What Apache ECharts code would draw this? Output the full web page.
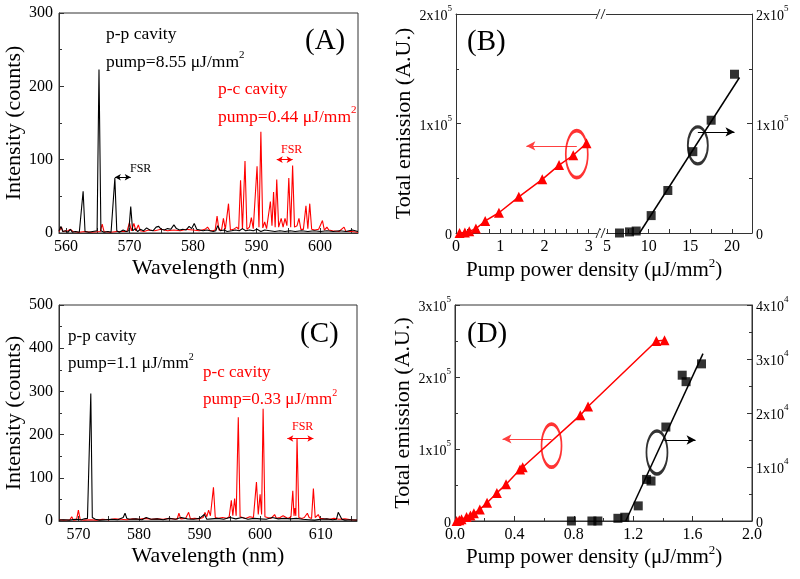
<!DOCTYPE html>
<html><head><meta charset="utf-8">
<script src="https://cdn.jsdelivr.net/npm/echarts@6/dist/echarts.min.js"></script>
<style>html,body{margin:0;padding:0;background:#fff}#c{width:800px;height:579px}</style>
</head><body><div id="c"></div>
<script>
// ---------- Panel A spectra (wavelength nm, counts) ----------
const ppA = [[558.9,3],[559.2,9],[559.5,2],[559.9,3],[560.3,1],[560.7,5],[561.0,1],[561.5,2],[562.1,1],[562.4,3],[562.7,57],[563.0,2],[563.6,1],[564.2,2],[564.9,3],[565.2,223],[565.5,3],[566.0,1],[566.6,2],[567.1,1],[567.4,3],[567.7,75],[568.0,3],[568.4,1],[569.0,4],[569.5,2],[569.9,3],[570.2,36],[570.5,3],[570.9,6],[571.3,2],[571.7,5],[572.2,3],[572.7,7],[573.2,4],[573.7,3],[574.2,8],[574.6,9],[575.0,5],[575.5,4],[576.0,6],[576.5,5],[577.0,11],[577.4,6],[577.9,4],[578.4,5],[578.9,4],[579.4,9],[579.8,6],[580.2,13],[580.6,5],[581.1,4],[581.6,3],[582.2,4],[582.7,3],[583.2,2],[583.6,3],[583.9,10],[584.3,3],[584.9,4],[585.4,2],[586.1,3],[586.7,4],[587.3,3],[587.8,6],[588.3,3],[588.9,4],[589.5,3],[590.1,5],[590.7,2],[591.3,4],[592.1,3],[592.9,2],[593.7,3],[594.5,2],[595.3,3],[596.1,2],[597.1,3],[598.1,2],[599.1,3],[600.1,2],[601.1,3],[602.1,2],[603.1,3],[604.1,2],[605.1,4],[606.0,2]];
const pcA = [[558.9,2],[559.3,8],[559.5,2],[560.3,3],[560.7,5],[561.1,2],[562.0,1],[563.0,2],[564.0,1],[565.4,2],[565.7,12],[566.0,2],[567.0,1],[568.0,2],[569.6,2],[570.0,14],[570.3,3],[570.7,13],[571.0,3],[571.4,11],[571.7,3],[572.3,2],[573.0,4],[574.0,3],[575.0,5],[576.0,3],[577.0,4],[578.0,3],[579.0,5],[580.0,4],[581.0,3],[581.9,5],[582.3,8],[582.7,3],[583.1,3],[583.5,4],[583.8,23],[584.1,4],[584.5,4],[584.8,20],[585.1,5],[585.3,5],[585.6,40],[585.9,4],[586.4,5],[586.9,8],[587.2,5],[587.5,72],[587.8,5],[587.95,5],[588.2,98],[588.5,5],[588.9,8],[589.2,21],[589.5,6],[589.8,8],[590.1,91],[590.4,8],[590.7,138],[591.0,7],[591.3,15],[591.6,6],[591.9,8],[592.2,43],[592.45,10],[592.7,56],[592.95,8],[593.2,73],[593.5,8],[593.9,20],[594.2,8],[594.5,20],[594.8,10],[595.1,75],[595.4,8],[595.7,92],[596.0,8],[596.4,10],[596.7,20],[597.0,5],[597.4,5],[597.8,37],[598.1,6],[598.4,40],[598.7,5],[599.2,4],[599.8,5],[600.4,17],[600.7,4],[601.1,8],[601.4,4],[602.0,3],[603.0,2],[603.8,8],[604.1,2],[605.0,2],[606.0,1]];

// ---------- Panel C spectra ----------
const ppC = [[566.8,2],[567.5,3],[568.5,2],[569.5,4],[570.5,3],[571.0,5],[571.5,6],[571.8,10],[572.05,295],[572.3,8],[572.8,4],[573.5,2],[574.5,3],[575.5,4],[576.5,3],[577.4,8],[577.7,18],[578.0,6],[578.5,4],[579.5,5],[580.5,3],[581.2,8],[582.0,4],[583.0,5],[584.0,3],[585.0,6],[586.0,4],[587.0,8],[588.0,5],[589.0,4],[590.0,6],[590.8,15],[591.2,4],[592.0,5],[593.0,6],[594.0,4],[595.0,8],[596.0,5],[597.0,8],[598.0,4],[599.0,6],[600.0,5],[601.0,4],[602.0,8],[603.0,5],[604.0,6],[605.0,5],[606.0,6],[607.0,4],[608.0,3],[609.0,2],[610.0,4],[611.0,5],[612.0,3],[612.6,4],[612.9,20],[613.2,18],[613.5,4],[614.0,2],[615.0,3],[616.0,2]];
const pcC = [[566.8,3],[567.6,2],[568.6,3],[568.9,10],[569.2,2],[569.7,3],[570.0,25],[570.3,3],[571.0,2],[572.0,3],[573.0,2],[574.0,4],[575.0,3],[576.0,5],[577.0,4],[578.0,3],[579.0,5],[580.0,4],[581.0,6],[582.0,4],[583.0,5],[584.0,4],[585.0,6],[586.3,4],[586.6,18],[586.9,5],[587.7,6],[588.2,20],[588.5,5],[589.2,6],[590.0,5],[590.6,8],[590.9,20],[591.2,10],[591.5,25],[591.8,12],[592.3,78],[592.6,8],[593.1,6],[593.8,8],[594.5,6],[594.9,10],[595.25,48],[595.5,12],[595.8,52],[596.05,12],[596.4,240],[596.7,10],[597.1,8],[597.6,6],[598.3,10],[598.9,8],[599.15,10],[599.4,90],[599.7,15],[600.0,62],[600.25,15],[600.5,260],[600.8,10],[601.2,8],[601.8,6],[602.4,15],[602.7,6],[603.3,8],[603.8,12],[604.1,8],[604.6,6],[605.1,10],[605.4,70],[605.6,12],[605.75,30],[605.9,12],[606.1,192],[606.4,8],[606.9,6],[607.3,8],[607.8,18],[608.1,8],[608.5,6],[608.8,75],[609.1,8],[609.6,15],[609.9,6],[610.6,5],[611.5,4],[612.2,6],[613.0,4],[614.0,5],[615.0,3],[616.0,2]];

// ---------- Panel B (pump uJ/mm2, total emission) ----------
const pcB = [[0.08,0],[0.2,500],[0.3,1500],[0.45,4000],[0.66,11000],[0.97,18500],[1.42,33000],[1.95,49000],[2.33,62000],[2.65,71000],[2.95,82000]];
const ppB = [[6.5,0],[7.7,1000],[8.5,1800],[10.3,15900],[12.3,38800],[15.3,74300],[17.5,103000],[20.3,145000]];
const ppBfit = [[8.9,0],[20.9,142000]];

// ---------- Panel D ----------
const pcD = [[0.011,0],[0.029,900],[0.044,2300],[0.078,5500],[0.104,7800],[0.127,10600],[0.167,16100],[0.216,25300],[0.282,39000],[0.344,51000],[0.438,71400],[0.456,74700],[0.844,147000],[0.896,159000],[1.356,250000],[1.411,251000]];
const ppD = [[0.784,0],[0.922,0],[0.962,0],[1.097,500],[1.143,700],[1.234,2800],[1.29,7700],[1.32,7400],[1.42,17400],[1.53,27000],[1.556,25800],[1.66,29100]];
const ppDfit = [[1.15,0],[1.67,31000]];

// ---------- tick labels ----------
const aLabels = [560,570,580,590,600];
const aTicks = [560,565,570,575,580,585,590,595,600,605];
const cLabels = [570,580,590,600,610];
const cTicks = [570,575,580,585,590,595,600,605,610,615];
const b1Labels = [0,1,2,3];
const b1Ticks = [0,0.25,0.5,0.75,1,1.25,1.5,1.75,2,2.25,2.5,2.75,3,3.25];
const b2Labels = [5,10,15,20];
const b2Ticks = [5,7.5,10,12.5,15,17.5,20];

const FONT = '"Liberation Serif", "Times New Roman", serif';
const AX = '#333';
const RED = '#ff0000';

function sciFmt(exp){
  return function(v){ if (v === 0) return '{b|0}'; return '{b|' + Math.round(v/Math.pow(10,exp)) + 'x10}{s|' + exp + '}'; };
}
const sciRich = {
  b:{fontSize:14, fontFamily:FONT, color:'#000', padding:[5,0,0,0], verticalAlign:'bottom'},
  s:{fontSize:9, fontFamily:FONT, color:'#000', verticalAlign:'top'}
};
function axisCommon(o){
  const base = {
    type:'value',
    axisLine:{show:true, onZero:false, lineStyle:{color:AX, width:1}},
    axisTick:{show:true, inside:true, length:5, lineStyle:{color:AX}},
    minorTick:{show:false},
    axisLabel:{color:'#000', fontFamily:FONT, fontSize:16, margin:6},
    splitLine:{show:false},
    nameTextStyle:{color:'#000', fontFamily:FONT, fontSize:22}
  };
  for (const k in o) {
    if (typeof o[k] === 'object' && !Array.isArray(o[k]) && base[k] && typeof base[k] === 'object') base[k] = Object.assign({}, base[k], o[k]);
    else base[k] = o[k];
  }
  return base;
}
const boxBorder = {show:true, borderColor:AX, borderWidth:1, backgroundColor:'transparent'};

function arrowLine(color, p1, p2, both){
  return {silent:true, symbol: both ? ['arrow','arrow'] : ['none','arrow'], symbolSize: both ? [5,6] : [7,9],
    lineStyle:{color:color, width:1, type:'solid'}, label:{show:false}, animation:false,
    data:[[{coord:p1},{coord:p2}]]};
}
function ellipse(xi, yi, pt, size, color){
  return {type:'scatter', xAxisIndex:xi, yAxisIndex:yi, data:[pt], symbol:'circle', symbolSize:size, silent:true,
    itemStyle:{color:'rgba(0,0,0,0)', borderColor:color, borderWidth:2.5}, z:5};
}
function supText(x, y, base, sup, color, size, tail){
  let t = '{n|' + base + '}' + (sup ? '{s|' + sup + '}' : '') + (tail ? '{n|' + tail + '}' : '');
  return {type:'text', left:x, top:y, z:100, style:{text:t, fill:color,
    rich:{n:{fontSize:size, fontFamily:FONT, fill:color, padding:[3,0,0,0], verticalAlign:'bottom'},
          s:{fontSize:Math.round(size*0.6), fontFamily:FONT, fill:color, verticalAlign:'top'}}}};
}

const chart = echarts.init(document.getElementById('c'), null, {renderer:'canvas'});
chart.setOption({
  animation:false,
  backgroundColor:'#fff',
  grid:[
    Object.assign({left:59, top:13, width:299, height:220}, boxBorder),
    {left:456, top:14, width:146, height:219},
    {left:602, top:14, width:150, height:219},
    Object.assign({left:59, top:305, width:298, height:216}, boxBorder),
    Object.assign({left:455, top:305, width:297, height:216}, boxBorder)
  ],
  xAxis:[
    axisCommon({gridIndex:0, min:558.9, max:606, axisTick:{customValues:aTicks}, axisLabel:{customValues:aLabels},
      name:'Wavelength (nm)', nameLocation:'middle', nameGap:24}),
    axisCommon({gridIndex:1, min:0, max:3.3, axisTick:{customValues:b1Ticks, length:4}, axisLabel:{customValues:b1Labels}}),
    axisCommon({gridIndex:1, min:0, max:3.3, position:'top', axisTick:{show:false}, axisLabel:{show:false}}),
    axisCommon({gridIndex:2, min:4.4, max:22.4, axisTick:{customValues:b2Ticks, length:4}, axisLabel:{customValues:b2Labels}}),
    axisCommon({gridIndex:2, min:4.4, max:22.4, position:'top', axisTick:{show:false}, axisLabel:{show:false}}),
    axisCommon({gridIndex:3, min:566.8, max:616, axisTick:{customValues:cTicks}, axisLabel:{customValues:cLabels},
      name:'Wavelength (nm)', nameLocation:'middle', nameGap:24}),
    axisCommon({gridIndex:4, min:0, max:2, interval:0.4, minorTick:{show:true, splitNumber:2, length:3, lineStyle:{color:AX}},
      axisLabel:{formatter:function(v){return v.toFixed(1);}}})
  ],
  yAxis:[
    axisCommon({gridIndex:0, min:0, max:300, interval:100, minorTick:{show:true, splitNumber:2, length:3, lineStyle:{color:AX}},
      name:'Intensity (counts)', nameLocation:'middle', nameGap:24}),
    axisCommon({gridIndex:1, min:0, max:200000, interval:100000, minorTick:{show:true, splitNumber:2, length:3, lineStyle:{color:AX}},
      axisLabel:{formatter:sciFmt(5), rich:sciRich, margin:4},
      name:'Total emission (A.U.)', nameLocation:'middle', nameGap:30}),
    axisCommon({gridIndex:2, min:0, max:200000, interval:100000, position:'right', minorTick:{show:true, splitNumber:2, length:3, lineStyle:{color:AX}},
      axisLabel:{formatter:sciFmt(5), rich:sciRich, margin:4}}),
    axisCommon({gridIndex:3, min:0, max:500, interval:100, minorTick:{show:true, splitNumber:2, length:3, lineStyle:{color:AX}},
      name:'Intensity (counts)', nameLocation:'middle', nameGap:24}),
    axisCommon({gridIndex:4, min:0, max:300000, interval:100000, minorTick:{show:true, splitNumber:2, length:3, lineStyle:{color:AX}},
      axisLabel:{formatter:sciFmt(5), rich:sciRich, margin:4},
      name:'Total emission (A.U.)', nameLocation:'middle', nameGap:30}),
    axisCommon({gridIndex:4, min:0, max:40000, interval:10000, position:'right', minorTick:{show:true, splitNumber:2, length:3, lineStyle:{color:AX}},
      axisLabel:{formatter:sciFmt(4), rich:sciRich, margin:4}})
  ],
  series:[
    {type:'line', xAxisIndex:0, yAxisIndex:0, data:pcA, symbol:'none', lineStyle:{color:RED, width:1.1}, itemStyle:{color:RED},
      markLine:arrowLine(RED, [593.2,100], [595.7,100], true)},
    {type:'line', xAxisIndex:0, yAxisIndex:0, data:ppA, symbol:'none', lineStyle:{color:'#000', width:1.1}, itemStyle:{color:'#000'},
      markLine:arrowLine('#000', [567.7,76], [570.2,76], true)},

    {type:'line', xAxisIndex:1, yAxisIndex:1, data:pcB, symbol:'triangle', symbolSize:10, lineStyle:{color:RED, width:1.5}, itemStyle:{color:RED},
      markLine:arrowLine('#ff4040', [2.73,79500], [1.59,79500], false)},
    ellipse(1, 1, [2.73,72000], [22,47], RED),
    {type:'line', xAxisIndex:3, yAxisIndex:2, data:ppBfit, symbol:'none', lineStyle:{color:'#000', width:1.5},
      markLine:arrowLine('#000', [15.9,92300], [20.3,92300], false)},
    {type:'scatter', xAxisIndex:3, yAxisIndex:2, data:ppB, symbol:'rect', symbolSize:9, itemStyle:{color:'#000'}},
    ellipse(3, 2, [15.9,80000], [20,37], '#000'),

    {type:'line', xAxisIndex:5, yAxisIndex:3, data:pcC, symbol:'none', lineStyle:{color:RED, width:1.1}, itemStyle:{color:RED},
      markLine:arrowLine(RED, [604.5,191], [608.8,191], true)},
    {type:'line', xAxisIndex:5, yAxisIndex:3, data:ppC, symbol:'none', lineStyle:{color:'#000', width:1.1}, itemStyle:{color:'#000'}},

    {type:'line', xAxisIndex:6, yAxisIndex:4, data:pcD, symbol:'triangle', symbolSize:10, lineStyle:{color:RED, width:1.5}, itemStyle:{color:RED},
      markLine:arrowLine('#ff4040', [0.65,114000], [0.32,114000], false)},
    ellipse(6, 4, [0.65,104600], [20,43], RED),
    {type:'line', xAxisIndex:6, yAxisIndex:5, data:ppDfit, symbol:'none', lineStyle:{color:'#000', width:1.5},
      markLine:arrowLine('#000', [1.41,15000], [1.62,15000], false)},
    {type:'scatter', xAxisIndex:6, yAxisIndex:5, data:ppD, symbol:'rect', symbolSize:9, itemStyle:{color:'#000'}},
    ellipse(6, 5, [1.36,12700], [21,43], '#000')
  ],
  graphic:[
    {type:'text', left:305, top:27, z:100, style:{text:'(A)', font:'29px ' + FONT, fill:'#000'}},
    {type:'text', left:467, top:28, z:100, style:{text:'(B)', font:'29px ' + FONT, fill:'#000'}},
    {type:'text', left:300, top:320, z:100, style:{text:'(C)', font:'29px ' + FONT, fill:'#000'}},
    {type:'text', left:467, top:320, z:100, style:{text:'(D)', font:'29px ' + FONT, fill:'#000'}},
    supText(106, 25, 'p-p cavity', '', '#000', 17.5),
    supText(106, 50, 'pump=8.55 μJ/mm', '2', '#000', 17.5),
    supText(218, 80, 'p-c cavity', '', RED, 17.5),
    supText(218, 105, 'pump=0.44 μJ/mm', '2', RED, 17.5),
    {type:'text', left:130, top:163, z:100, style:{text:'FSR', font:'12px ' + FONT, fill:'#000'}},
    {type:'text', left:281, top:144, z:100, style:{text:'FSR', font:'12px ' + FONT, fill:RED}},
    supText(68, 328, 'p-p cavity', '', '#000', 17),
    supText(68, 352, 'pump=1.1 μJ/mm', '2', '#000', 17),
    supText(203, 364, 'p-c cavity', '', RED, 17),
    supText(203, 388, 'pump=0.33 μJ/mm', '2', RED, 17),
    {type:'text', left:292, top:421, z:100, style:{text:'FSR', font:'12px ' + FONT, fill:RED}},
    supText(466, 257, 'Pump power density (μJ/mm', '2', '#000', 21, ')'),
    supText(466, 544, 'Pump power density (μJ/mm', '2', '#000', 21, ')'),
    // axis break marks on panel B
    {type:'rect', z:100, shape:{x:597, y:11, width:9, height:6}, style:{fill:'#fff'}},
    {type:'rect', z:100, shape:{x:597, y:230, width:9, height:6}, style:{fill:'#fff'}},
    {type:'line', z:101, shape:{x1:596, y1:19, x2:600, y2:9}, style:{stroke:AX, lineWidth:1}},
    {type:'line', z:101, shape:{x1:601, y1:19, x2:605, y2:9}, style:{stroke:AX, lineWidth:1}},
    {type:'line', z:101, shape:{x1:596, y1:238, x2:600, y2:228}, style:{stroke:AX, lineWidth:1}},
    {type:'line', z:101, shape:{x1:601, y1:238, x2:605, y2:228}, style:{stroke:AX, lineWidth:1}}
  ]
});
</script></body></html>
